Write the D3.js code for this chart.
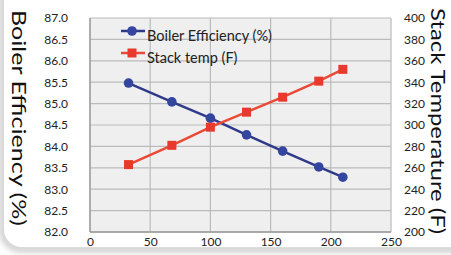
<!DOCTYPE html>
<html><head><meta charset="utf-8">
<script src="https://cdn.jsdelivr.net/npm/d3@7"></script>
<style>html,body{margin:0;padding:0;background:#fff;overflow:hidden}</style>
</head><body>
<script>
const xValues = [32, 68, 100, 130, 160, 190, 210];
const efficiency = [85.48, 85.04, 84.66, 84.27, 83.89, 83.52, 83.28];
const stackTemp = [263, 281, 298, 312, 326, 341, 352];
const leftTicks = [82.0, 82.5, 83.0, 83.5, 84.0, 84.5, 85.0, 85.5, 86.0, 86.5, 87.0];
const rightTicks = [200, 220, 240, 260, 280, 300, 320, 340, 360, 380, 400];
const xTicks = [0, 50, 100, 150, 200, 250];
const seriesNames = ["Boiler Efficiency (%)", "Stack temp (F)"];
const axisTitles = ["Boiler Efficiency (%)", "Stack Temperature (F)"];

const W = 451, H = 255;
const m = {l: 90, r: 60, t: 18, b: 23};
const svg = d3.select("body").append("svg").attr("width", W).attr("height", H);
const font = "Lato, 'Open Sans', sans-serif";

// card shadow at bottom-left
const defs = svg.append("defs");
const f = defs.append("filter").attr("id", "sh").attr("x", "-20%").attr("y", "-20%").attr("width", "140%").attr("height", "140%");
f.append("feGaussianBlur").attr("stdDeviation", 3);
svg.append("rect").attr("x", 0).attr("y", 0).attr("width", W).attr("height", H).attr("fill", "#fff");
svg.append("rect").attr("x", 3).attr("y", -40).attr("width", W + 40).attr("height", 289).attr("rx", 18)
  .attr("fill", "none").attr("stroke", "#bbb").attr("stroke-width", 5).attr("filter", "url(#sh)");
svg.append("rect").attr("x", 4).attr("y", -40).attr("width", W + 40).attr("height", 287).attr("rx", 18).attr("fill", "#fff");

const x = d3.scaleLinear().domain([0, 250]).range([m.l, W - m.r]);
const yL = d3.scaleLinear().domain([82, 87]).range([H - m.b, m.t]);
const yR = d3.scaleLinear().domain([200, 400]).range([H - m.b, m.t]);

// plot background
svg.append("rect").attr("x", x(0)).attr("y", yL(87)).attr("width", x(250) - x(0)).attr("height", yL(82) - yL(87)).attr("fill", "#efefef");

// gridlines
const g = svg.append("g");
g.selectAll(".hg").data(leftTicks).join("line")
  .attr("x1", x(0)).attr("x2", x(250)).attr("y1", d => yL(d)).attr("y2", d => yL(d))
  .attr("stroke", "#bbb").attr("stroke-width", 1.2);
g.selectAll(".vg").data(xTicks).join("line")
  .attr("y1", yL(82)).attr("y2", yL(87)).attr("x1", d => x(d)).attr("x2", d => x(d))
  .attr("stroke", "#bbb").attr("stroke-width", 1.2);
g.append("line").attr("x1", x(0)).attr("x2", x(0)).attr("y1", yL(82)).attr("y2", yL(87)).attr("stroke", "#999").attr("stroke-width", 1.3);
g.append("line").attr("x1", x(0)).attr("x2", x(250)).attr("y1", yL(82)).attr("y2", yL(82)).attr("stroke", "#999").attr("stroke-width", 1.3);

// axes labels
const axL = d3.axisLeft(yL).tickValues(leftTicks).tickFormat(d3.format(".1f")).tickSize(0).tickPadding(22);
const axR = d3.axisRight(yR).tickValues(rightTicks).tickSize(0).tickPadding(13);
const axB = d3.axisBottom(x).tickValues(xTicks).tickSize(0).tickPadding(5);
[[axL, `translate(${m.l},0)`], [axR, `translate(${W - m.r},0)`], [axB, `translate(0,${H - m.b})`]].forEach(([a, t]) => {
  const ga = svg.append("g").attr("transform", t).call(a);
  ga.select(".domain").remove();
  ga.selectAll("text").attr("font-family", font).attr("font-size", 12).attr("fill", "#222");
});

// lines
const lineL = d3.line().x((d, i) => x(xValues[i])).y(d => yL(d));
const lineR = d3.line().x((d, i) => x(xValues[i])).y(d => yR(d));
const blue = "#34459f", blueLine = "#2f3b8a", red = "#e8392c", redLine = "#ea4a35";
svg.append("path").datum(efficiency).attr("d", lineL).attr("fill", "none").attr("stroke", blueLine).attr("stroke-width", 2.5);
svg.append("path").datum(stackTemp).attr("d", lineR).attr("fill", "none").attr("stroke", redLine).attr("stroke-width", 2.5);
svg.selectAll(".bp").data(efficiency).join("circle")
  .attr("cx", (d, i) => x(xValues[i])).attr("cy", d => yL(d)).attr("r", 4.8).attr("fill", blue);
svg.selectAll(".rp").data(stackTemp).join("rect")
  .attr("x", (d, i) => x(xValues[i]) - 4.5).attr("y", d => yR(d) - 4.5).attr("width", 9).attr("height", 9).attr("fill", red);

// legend
const lg = svg.append("g");
[[blueLine, blue, "c", 31], [redLine, red, "s", 53]].forEach(([lc, mc, shape, yy], i) => {
  lg.append("line").attr("x1", 121).attr("x2", 145).attr("y1", yy).attr("y2", yy).attr("stroke", lc).attr("stroke-width", 2.5);
  if (shape === "c") lg.append("circle").attr("cx", 132).attr("cy", yy).attr("r", 4.8).attr("fill", mc);
  else lg.append("rect").attr("x", 127.5).attr("y", yy - 4.5).attr("width", 9).attr("height", 9).attr("fill", mc);
  lg.append("text").attr("x", 147).attr("y", yy + 10).attr("font-family", font).attr("font-size", 14.5)
    .attr("fill", "#222").text(seriesNames[i]);
});

// axis titles
svg.append("text").attr("transform", "translate(12,10) rotate(90)").attr("font-family", font).attr("font-size", 20)
  .attr("fill", "#111").attr("textLength", 216).attr("lengthAdjust", "spacingAndGlyphs").text(axisTitles[0]);
svg.append("text").attr("transform", "translate(431,8) rotate(90)").attr("font-family", font).attr("font-size", 19)
  .attr("fill", "#111").attr("textLength", 226).attr("lengthAdjust", "spacingAndGlyphs").text(axisTitles[1]);
</script>
</body></html>
